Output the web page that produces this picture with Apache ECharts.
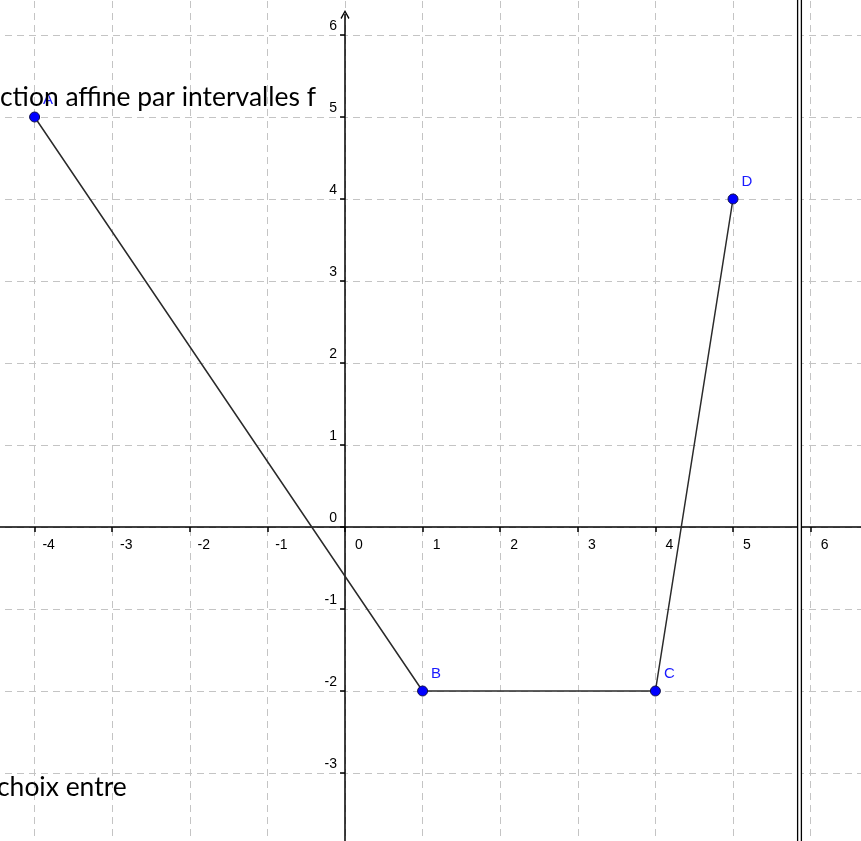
<!DOCTYPE html>
<html>
<head>
<meta charset="utf-8">
<script src="https://cdn.jsdelivr.net/npm/echarts@6/dist/echarts.min.js"></script>
<style>
  html, body { margin: 0; padding: 0; background: #fff; }
  #chart { width: 861px; height: 841px; }
</style>
</head>
<body>
<div id="chart"></div>
<script>
// points of f
const pointNames = ['A', 'B', 'C', 'D'];
const pointX = [-4, 1, 4, 5];
const pointY = [5, -2, -2, 4];

// axes ranges (grid is wider than the window, only -4..6 / -3..6 show)
const xRange = [-5, 7];
const yRange = [-4, 7];
const yArrowEnd = 6.25;

// text of the page that runs over the figure
const textTop = 'ction affine par intervalles f';
const textBottom = 'choix entre';

// pixel size of one unit and where the origin sits
const ux = 77.6, uy = 82, ox = 345, oy = 527;

function fitFont(text, family, targetWidth) {
    const ctx = document.createElement('canvas').getContext('2d');
    ctx.font = '100px ' + family;
    return 100 * targetWidth / ctx.measureText(text).width;
}

const pageFont = 'Lato';
const pageSize = fitFont(textTop, pageFont, 316);

const points = pointX.map((x, i) => [x, pointY[i], pointNames[i]]);
const labelFont = 'Liberation Sans';

const gridLeft = ox + xRange[0] * ux;
const gridTop = oy - yRange[1] * uy;
const gridW = (xRange[1] - xRange[0]) * ux;
const gridH = (yRange[1] - yRange[0]) * uy;

const hidden = { show: false, min: 0, max: 1 };
const dashed = { lineStyle: { color: '#c4c4c4', width: 1, type: [7, 5] } };
const tickStyle = { length: 5, lineStyle: { color: '#000', width: 1.5 } };

const myChart = echarts.init(document.getElementById('chart'));
myChart.setOption({
    animation: false,
    grid: [
        // 0: grid lines + curve
        { outerBoundsMode: 'none', left: gridLeft, top: gridTop, width: gridW, height: gridH },
        // 1: x axis, its bottom edge on y = 0
        { outerBoundsMode: 'none', left: gridLeft, top: gridTop, width: gridW, height: oy - gridTop },
        // 2: y labels, left edge on x = 0
        { outerBoundsMode: 'none', left: ox, top: gridTop, width: 100, height: gridH },
        // 3: y axis line with arrow
        { outerBoundsMode: 'none', left: ox, top: oy - yArrowEnd * uy, width: 100, height: (yArrowEnd - yRange[0]) * uy }
    ],
    xAxis: [
        {
            type: 'value', gridIndex: 0, min: xRange[0], max: xRange[1], interval: 1,
            axisLine: { show: false }, axisTick: { show: false }, axisLabel: { show: false },
            splitLine: dashed
        },
        {
            type: 'value', gridIndex: 1, position: 'bottom', min: xRange[0], max: xRange[1], interval: 1,
            axisLine: { onZero: false, lineStyle: { color: '#000', width: 1.5 } },
            axisTick: tickStyle,
            axisLabel: { color: '#000', fontSize: 14, fontFamily: labelFont, margin: 11, align: 'center', padding: [0, 0, 0, 28] },
            splitLine: { show: false }
        },
        Object.assign({ type: 'value', gridIndex: 2 }, hidden),
        Object.assign({ type: 'value', gridIndex: 3 }, hidden)
    ],
    yAxis: [
        {
            type: 'value', gridIndex: 0, min: yRange[0], max: yRange[1], interval: 1,
            axisLine: { show: false }, axisTick: { show: false }, axisLabel: { show: false },
            splitLine: dashed
        },
        Object.assign({ type: 'value', gridIndex: 1 }, hidden),
        {
            type: 'value', gridIndex: 2, position: 'left', min: yRange[0], max: yRange[1], interval: 1,
            axisLine: { show: false, onZero: false },
            axisTick: tickStyle,
            axisLabel: { color: '#000', fontSize: 14, fontFamily: labelFont, margin: 8, verticalAlign: 'bottom', padding: [0, 0, 2, 0], showMinLabel: false, showMaxLabel: false },
            splitLine: { show: false }
        },
        {
            type: 'value', gridIndex: 3, position: 'left', min: yRange[0], max: yArrowEnd,
            axisLine: {
                onZero: false,
                symbol: ['none', 'path://M5,0 L10,9 L8.8,10 L5,2.8 L1.2,10 L0,9 Z'],
                symbolSize: [9, 10],
                lineStyle: { color: '#000', width: 1.5 }
            },
            axisTick: { show: false }, axisLabel: { show: false }, splitLine: { show: false }
        }
    ],
    series: [
        {
            type: 'line',
            xAxisIndex: 0,
            yAxisIndex: 0,
            data: points,
            symbol: 'circle',
            symbolSize: 10,
            lineStyle: { color: '#2a2a2a', width: 1.5 },
            itemStyle: { color: '#0000ff', borderColor: '#10104a', borderWidth: 1 },
            label: {
                show: true,
                formatter: p => p.data[2],
                position: 'right',
                distance: 3,
                offset: [0, -17],
                color: '#1a1aff',
                fontSize: 15,
                fontFamily: labelFont
            },
            z: 5
        }
    ],
    graphic: [
        { type: 'rect', shape: { x: 797, y: 0, width: 5, height: 841 }, style: { fill: '#fff' }, z: 10 },
        { type: 'line', shape: { x1: 797.6, y1: 0, x2: 797.6, y2: 841 }, style: { stroke: '#000', lineWidth: 1.3 }, z: 11 },
        { type: 'line', shape: { x1: 801.4, y1: 0, x2: 801.4, y2: 841 }, style: { stroke: '#000', lineWidth: 1.3 }, z: 11 },
        { type: 'text', x: 0, y: 105 - pageSize * 0.3, style: { text: textTop, font: pageSize + 'px ' + pageFont, fill: '#000', verticalAlign: 'middle' }, z: 12 },
        { type: 'text', x: -3, y: 795 - pageSize * 0.3, style: { text: textBottom, font: pageSize + 'px ' + pageFont, fill: '#000', verticalAlign: 'middle' }, z: 12 }
    ]
});
</script>
</body>
</html>
